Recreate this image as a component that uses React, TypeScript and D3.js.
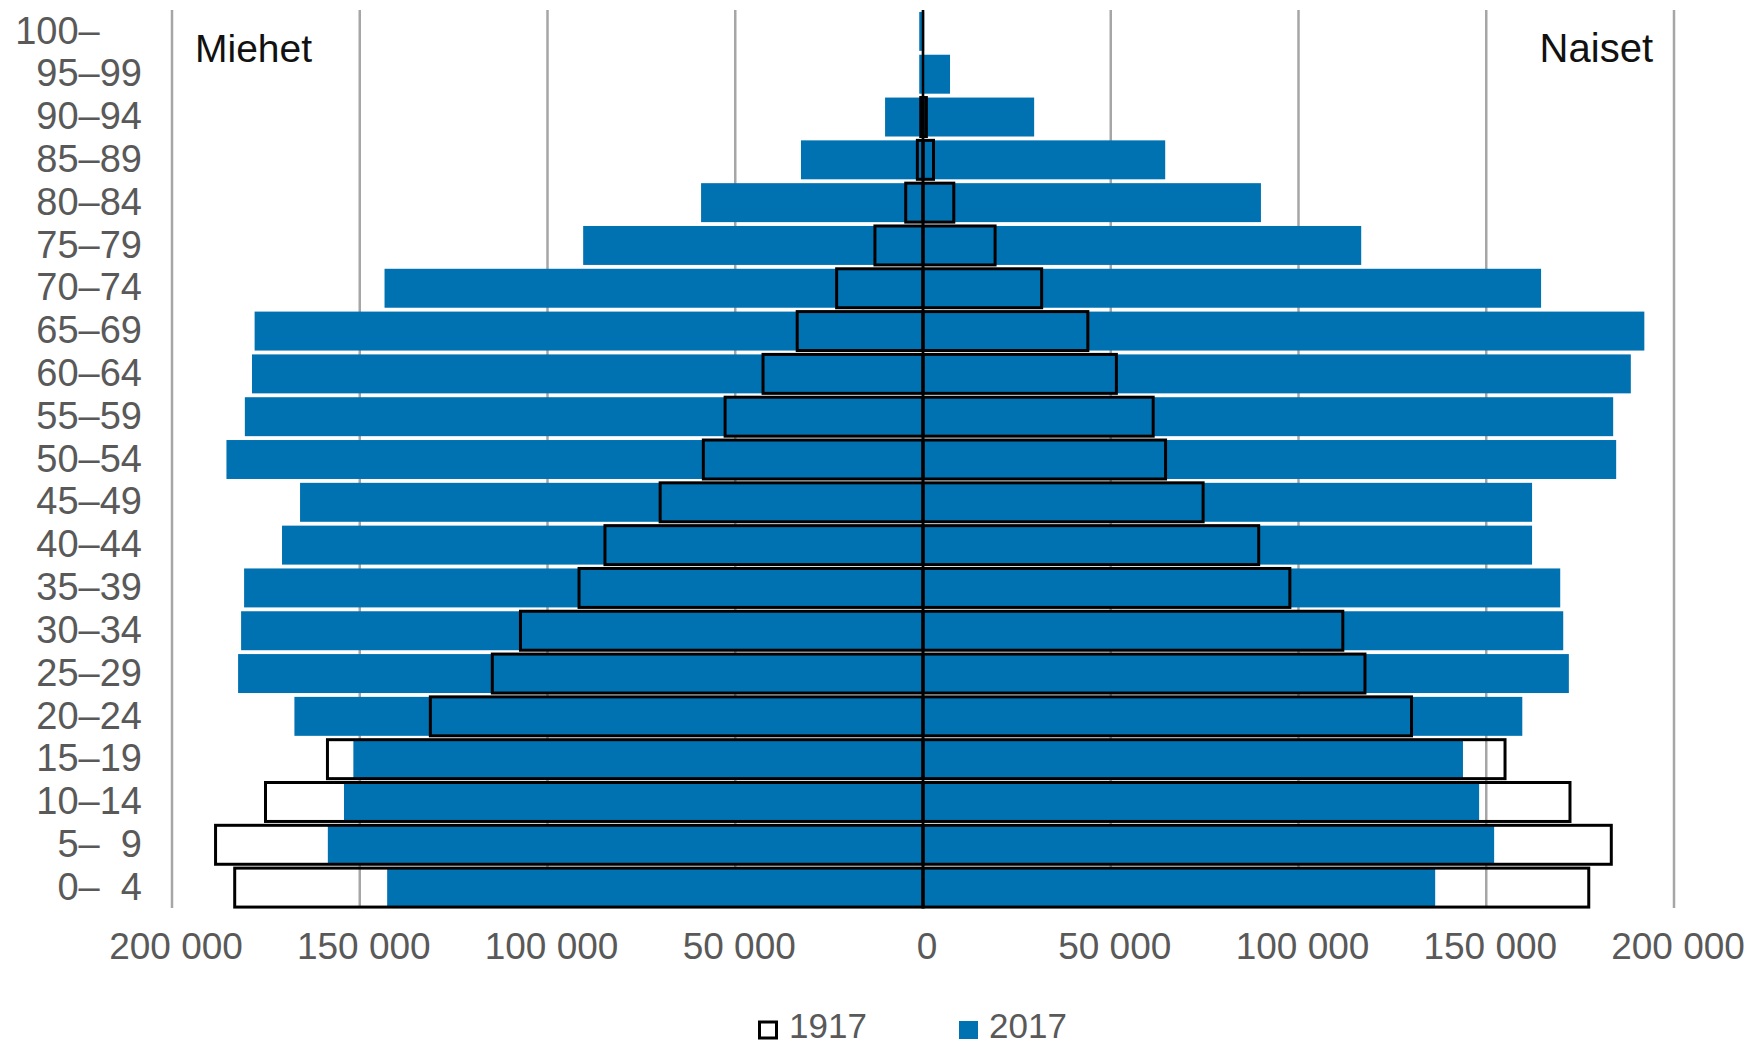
import { useEffect, useRef } from 'react';
import * as d3 from 'd3';

// age groups, bottom to top
const ageGroups = [
  '0–\u20074', '5–\u20079', '10–14', '15–19', '20–24', '25–29', '30–34', '35–39', '40–44', '45–49',
  '50–54', '55–59', '60–64', '65–69', '70–74', '75–79', '80–84', '85–89', '90–94', '95–99', '100–\u2007\u2007',
];

const men2017 = [
  142700, 158500, 154200, 151700, 167400, 182400, 181600, 180800, 170700, 165900,
  185500, 180600, 178700, 178000, 143400, 90500, 59100, 32500, 10100, 1000, 1000,
];
const women2017 = [
  136400, 152100, 148100, 143800, 159600, 172000, 170500, 169700, 162200, 162200,
  184600, 183800, 188500, 192100, 164600, 116700, 90000, 64500, 29600, 7200, 300,
];
const men1917 = [
  183300, 188400, 175100, 158600, 131200, 114700, 107200, 91600, 84700, 70000,
  58500, 52700, 42600, 33500, 23000, 12800, 4600, 1500, 600, 0, 0,
];
const women1917 = [
  177300, 183300, 172300, 155000, 130100, 117700, 111800, 97700, 89400, 74600,
  64600, 61300, 51500, 43900, 31600, 19200, 8200, 2800, 900, 0, 0,
];

const xTicks = [-200000, -150000, -100000, -50000, 0, 50000, 100000, 150000, 200000];
const seriesNames = ['1917', '2017'];

const BLUE = '#0072b1';
const FONT = '"Liberation Sans", Arial, sans-serif';

export default function App() {
  const svgRef = useRef<SVGSVGElement>(null);

  useEffect(() => {
    if (!svgRef.current) return;
    const W = 1746, H = 1045;
    const top = 10, bottom = 909;

    const svg = d3.select(svgRef.current).attr('width', W).attr('height', H);
    svg.selectAll('*').remove();

    const x = d3.scaleLinear().domain([-200000, 200000]).range([172, 1674]);
    const y = d3.scaleBand<string>()
      .domain([...ageGroups].reverse())
      .range([top, bottom])
      .paddingInner(0.09)
      .paddingOuter(0.045);

    const fmt = d3.formatLocale({ decimal: ',', thousands: ' ', grouping: [3], currency: ['', ''] }).format(',.0f');

    // Grid
    svg.append('g')
      .selectAll('line')
      .data(xTicks)
      .enter().append('line')
      .attr('x1', d => x(d)).attr('x2', d => x(d))
      .attr('y1', top).attr('y2', bottom - 1)
      .attr('stroke', '#a6a6a6')
      .attr('stroke-width', 2.5);

    const rows = ageGroups.map((a, i) => ({
      age: a, m17: men2017[i], w17: women2017[i], m17o: men1917[i], w17o: women1917[i],
    }));

    // 2017 bars
    const g17 = svg.append('g');
    g17.selectAll('.m')
      .data(rows)
      .enter().append('rect')
      .attr('x', d => x(-d.m17))
      .attr('y', d => y(d.age)!)
      .attr('width', d => x(0) - x(-d.m17))
      .attr('height', y.bandwidth())
      .attr('fill', BLUE);
    g17.selectAll('.w')
      .data(rows)
      .enter().append('rect')
      .attr('x', x(0))
      .attr('y', d => y(d.age)!)
      .attr('width', d => x(d.w17) - x(0))
      .attr('height', y.bandwidth())
      .attr('fill', BLUE);

    // 1917 outlines
    const g1917 = svg.append('g').attr('fill', 'none').attr('stroke', '#000').attr('stroke-width', 3);
    g1917.selectAll('.m')
      .data(rows.filter(d => d.m17o > 0))
      .enter().append('rect')
      .attr('x', d => x(-d.m17o))
      .attr('y', d => y(d.age)!)
      .attr('width', d => x(0) - x(-d.m17o))
      .attr('height', y.bandwidth());
    g1917.selectAll('.w')
      .data(rows.filter(d => d.w17o > 0))
      .enter().append('rect')
      .attr('x', x(0))
      .attr('y', d => y(d.age)!)
      .attr('width', d => x(d.w17o) - x(0))
      .attr('height', y.bandwidth());

    // Center line
    svg.append('line')
      .attr('x1', x(0)).attr('x2', x(0))
      .attr('y1', top).attr('y2', bottom - 1)
      .attr('stroke', '#000').attr('stroke-width', 2.5);

    // Age labels
    svg.append('g')
      .selectAll('text')
      .data(ageGroups)
      .enter().append('text')
      .attr('x', 142)
      .attr('y', d => y(d)! + y.bandwidth() / 2)
      .attr('dy', '0.32em')
      .attr('text-anchor', 'end')
      .attr('font-family', FONT).attr('font-size', 38).attr('fill', '#595959')
      .text(d => d);

    // X tick labels
    svg.append('g')
      .selectAll('text')
      .data(xTicks)
      .enter().append('text')
      .attr('x', d => x(d) + 4)
      .attr('y', 959)
      .attr('text-anchor', 'middle')
      .attr('font-family', FONT).attr('font-size', 37).attr('fill', '#595959')
      .text(d => fmt(Math.abs(d)));

    // Side titles
    svg.append('text')
      .attr('x', 195).attr('y', 62)
      .attr('font-family', FONT).attr('font-size', 39).attr('fill', '#111')
      .text('Miehet');
    svg.append('text')
      .attr('x', 1653).attr('y', 62)
      .attr('text-anchor', 'end')
      .attr('font-family', FONT).attr('font-size', 40).attr('fill', '#111')
      .text('Naiset');

    // Legend
    const lg = svg.append('g');
    lg.append('rect')
      .attr('x', 759.5).attr('y', 1022).attr('width', 17).attr('height', 16)
      .attr('fill', '#fff').attr('stroke', '#000').attr('stroke-width', 3);
    lg.append('text')
      .attr('x', 789).attr('y', 1038)
      .attr('font-family', FONT).attr('font-size', 35).attr('fill', '#595959')
      .text(seriesNames[0]);
    lg.append('rect')
      .attr('x', 959).attr('y', 1021).attr('width', 19).attr('height', 18)
      .attr('fill', BLUE);
    lg.append('text')
      .attr('x', 989).attr('y', 1038)
      .attr('font-family', FONT).attr('font-size', 35).attr('fill', '#595959')
      .text(seriesNames[1]);
  }, []);

  return (
    <div style={{ position: 'absolute', left: 0, top: 0, background: '#fff' }}>
      <svg ref={svgRef} style={{ display: 'block' }} />
    </div>
  );
}
